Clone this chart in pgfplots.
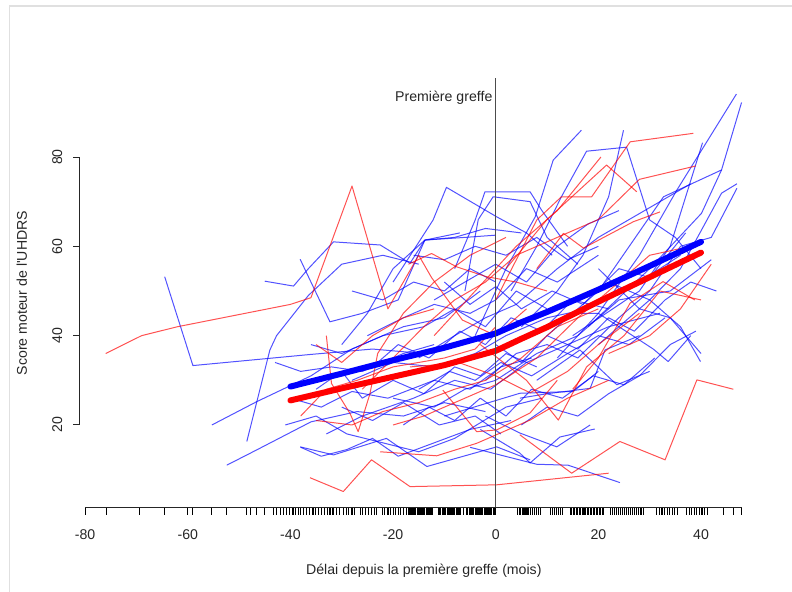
\documentclass[border=0pt]{standalone}
\usepackage{fontspec}
\setmainfont{Liberation Sans}[Ligatures=TeXOff]
\usepackage{pgfplots}
\pgfplotsset{compat=1.18}
\begin{document}
\begin{tikzpicture}[every node/.style={font=\fontsize{10.6}{12.7}\selectfont, inner sep=0pt, text=black!85}]
\useasboundingbox (-60pt,-63.3pt) rectangle (534pt,380.7pt);
\draw[black!12, line width=1.2pt] (-52.9pt,-63.3pt) -- (-52.9pt,376.2pt) -- (534pt,376.2pt);
\begin{axis}[at={(0pt,0pt)}, anchor=south west, scale only axis,
  width=515.8pt, height=321.9pt,
  xmin=-81, xmax=53, ymin=1.5, ymax=97.6,
  axis lines=none, clip=false,
  thinb/.style={draw=blue, draw opacity=0.68, line width=0.75pt, line join=round, mark=none},
  thinr/.style={draw=red, draw opacity=0.68, line width=0.75pt, line join=round, mark=none},
]
% ---- individual trajectories: blue ----
\addplot[thinb] coordinates {(-64.5,53.2) (-59,33.3) (-36,35.8) (-24,37) (-14,36) (-6,39)};
\addplot[thinb] coordinates {(-55.3,20) (-46.6,25.2) (-36,31) (-28,37) (-18,42) (-10,44) (-3,50)};
\addplot[thinb] coordinates {(-52.4,11) (-46.6,14.4) (-36,20.7) (-27,23) (-18,22) (-10,25) (-2,23)};
\addplot[thinb] coordinates {(-48.5,16.3) (-44,36.8) (-42.7,40) (-36.5,49) (-30,56) (-22,58) (-15,56)};
\addplot[thinb] coordinates {(-45,52.2) (-39.4,51.1) (-36.5,55) (-31.6,61) (-22.5,60.3) (-16.7,56.2) (-13.8,61.4) (-6,62) (0,62.5)};
\addplot[thinb] coordinates {(-38.1,57.1) (-36,52) (-32.3,43.1) (-26,45) (-19,48) (-13.8,61.4) (-7,63)};
\addplot[thinb] coordinates {(-40,26) (-34,24) (-28,27.5) (-21,26) (-12,30) (-5,28) (1,33) (7,35)};
\addplot[thinb] coordinates {(-38,15) (-34,13) (-29,14.5) (-24,17) (-19,13) (-12,16) (-5,19) (3,21)};
\addplot[thinb] coordinates {(-41,20) (-35,22) (-29,18) (-22,16) (-15,14) (-8,17) (2,24) (9,26)};
\addplot[thinb] coordinates {(-38.1,15.1) (-31.6,13.3) (-21.3,17) (-13.4,10.7) (0.2,15.1) (6.7,12.2)};
\addplot[thinb] coordinates {(-30,38) (-25,45) (-20,55) (-13.8,61.4) (-8,62) (-2,64) (5,63)};
\addplot[thinb] coordinates {(-20,52) (-12.2,65.9) (-9.6,73.2) (0.2,66.6) (6,63) (11,58)};
\addplot[thinb] coordinates {(-8,55) (-4,65.9) (-2.1,72.2) (6.7,72.2) (9,68) (14,60)};
\addplot[thinb] coordinates {(-6,50) (-3.4,66) (-0.5,71.1) (6.7,70) (10,62) (16,56)};
\addplot[thinb] coordinates {(-4,40) (2,55) (7.7,66.6) (11.2,79.3) (16.7,86)};
\addplot[thinb] coordinates {(3,50) (8,60) (12.8,71.1) (17.7,81.3) (25.5,82.2) (30,65.9) (35,62) (40,55)};
\addplot[thinb] coordinates {(5,42) (12,50) (17,58) (22,71.1) (24.9,86)};
\addplot[thinb] coordinates {(12,35) (20,45) (28,58) (35.3,72.6) (46.9,94.1)};
\addplot[thinb] coordinates {(10,40) (20,50) (32.7,71.1) (44,77.1) (47.9,92.2)};
\addplot[thinb] coordinates {(18,42) (30,55) (40.1,67.4) (44,77.1)};
\addplot[thinb] coordinates {(15,40) (28,50) (34,60) (40.3,83.2)};
\addplot[thinb] coordinates {(20,38) (30,48) (36,55) (44,71.9) (47,74)};
\addplot[thinb] coordinates {(-5,15) (8,11.2) (14.1,11) (24.2,7.1)};
\addplot[thinb] coordinates {(-2,22) (4.7,18.2) (11.9,15.1) (18.4,20)};
\addplot[thinb] coordinates {(-3,19) (4.7,13.7) (6.7,11.5) (12.5,17.3) (19.3,19.1)};
\addplot[thinb] coordinates {(15,45) (20,45) (30.7,37) (33.6,34.2) (38,40)};
\addplot[thinb] coordinates {(22,52) (30,48) (36,42) (39.9,34.2)};
\addplot[thinb] coordinates {(4.7,26) (10,27) (18.4,28.2) (21.3,36.8) (28,40)};
\addplot[thinb] coordinates {(-10,22) (4.7,27.1) (15.1,27.5) (20,32)};
\addplot[thinb] coordinates {(8,30) (16.4,36.8) (23.6,29) (30,32)};
\addplot[thinb] coordinates {(-25,40) (-18,44) (-12,47) (-5,45) (0,48) (6,55) (12,52) (20,58)};
\addplot[thinb] coordinates {(-28,30) (-20,34) (-12,33) (-4,36) (2,40) (10,44) (18,46) (28,52) (36,58)};
\addplot[thinb] coordinates {(-33,18) (-26,22) (-16,26) (-8,30) (-1,28) (6,34) (14,38) (22,42) (32,45)};
\addplot[thinb] coordinates {(-20,26) (-12,24) (-6,28) (0,30) (8,36) (16,40) (24,48) (34,50) (42,57)};
\addplot[thinb] coordinates {(-15,35) (-8,40) (-2,44) (4,47) (12,55) (20,62) (26,66) (32,70) (38,74)};
\addplot[thinb] coordinates {(-36,38) (-30,36) (-22,40) (-14,42) (-8,46) (-2,42) (4,50) (10,46)};
\addplot[thinb] coordinates {(-12,48) (-6,52) (0,56) (6,52) (12,60) (18,65) (24,68)};
\addplot[thinb] coordinates {(-2,30) (4,36) (10,38) (16,35) (24,44) (30,50) (36,60) (42,62) (47,73)};
\addplot[thinb] coordinates {(-30,24) (-24,21) (-18,25) (-11,20) (-4,22) (1,18)};
\addplot[thinb] coordinates {(-43,34) (-38,32) (-32,33) (-26,32) (-18,36) (-12,38)};
\addplot[thinb] coordinates {(20,55) (28,46) (34,44) (40,36)};
\addplot[thinb] coordinates {(-16,58) (-10,57) (-4,60) (2,58) (8,62) (14,57) (20,60)};
\addplot[thinb] coordinates {(-35,28) (-30,32) (-26,26) (-20,30) (-14,27) (-8,33) (-3,31) (2,36) (8,33)};
\addplot[thinb] coordinates {(-24,33) (-19,38) (-13,35) (-7,41) (-2,38) (3,44) (9,41) (15,48) (22,46)};
\addplot[thinb] coordinates {(-18,20) (-13,24) (-8,21) (-3,26) (2,22) (7,28) (13,26) (19,31) (25,29) (31,35)};
\addplot[thinb] coordinates {(0,38) (5,34) (10,40) (16,37) (22,44) (27,41) (33,48) (38,52) (43,50)};
\addplot[thinb] coordinates {(-10,52) (-5,47) (0,51) (5,46) (11,50) (17,47) (24,55) (30,53) (37,63)};
\addplot[thinb] coordinates {(-28,50) (-22,48) (-16,52) (-10,50) (-5,55) (0,52)};
\addplot[thinb] coordinates {(5,20) (10,24) (16,22) (22,27) (28,31) (34,38) (39,41)};
\addplot[thinb] coordinates {(-15,28) (-9,32) (-4,30) (1,34) (7,31) (14,36) (20,40) (26,38) (33,44)};
% ---- individual trajectories: red ----
\addplot[thinr] coordinates {(-76,36) (-69,40) (-62,42) (-40,47) (-36,48.5) (-28,73.5) (-21,46) (-15,58) (-12.5,53) (-6.5,43.5) (0,40) (6,46)};
\addplot[thinr] coordinates {(-33,40) (-32,29.3) (-28.4,22.6) (-26.8,18.5) (-24.5,27) (-23,36) (-18,45) (-12,52) (-5,58) (2,62)};
\addplot[thinr] coordinates {(-36.2,8.2) (-29.7,5.1) (-24.2,12.2) (-16.7,6.2) (0.2,6.6) (22,9.2)};
\addplot[thinr] coordinates {(4.7,17.8) (14.8,9.2) (24.2,16.3) (33,12.2) (39.2,30.1) (46.3,28)};
\addplot[thinr] coordinates {(-3,38) (6,30) (12.2,21.1) (17.7,33) (25,40) (32,50) (40,48)};
\addplot[thinr] coordinates {(0,48) (8,65.9) (12.8,71.1) (18.7,71.1) (26.2,83.4) (38.5,85.3)};
\addplot[thinr] coordinates {(-12,40) (-4,50) (4,60) (12,68) (20.5,80)};
\addplot[thinr] coordinates {(2,55) (10,66) (21.6,78.2) (27.5,72.2)};
\addplot[thinr] coordinates {(-22.5,14) (-11.5,13.1) (-3.7,15.9) (6.7,21.1) (14,26) (22,30)};
\addplot[thinr] coordinates {(15,28) (20,35) (26.2,47.3) (32.6,52.1) (38.8,48)};
\addplot[thinr] coordinates {(8,55) (13.2,62.9) (17.1,59.6) (26.8,65.5) (32,67.7)};
\addplot[thinr] coordinates {(-17,56) (-12.5,58.4) (-7.6,55.4) (-1.8,53.2) (4,52) (10,50)};
\addplot[thinr] coordinates {(-16.7,33) (-7,33.9) (0,31) (6.7,27.2) (14,32) (20,38) (28,45)};
\addplot[thinr] coordinates {(-10.3,27.8) (-3.7,18.5) (0.2,18.9) (6.7,22.7) (12,30)};
\addplot[thinr] coordinates {(-35,21) (-28,20) (-22,23) (-15,25) (-8,28) (-2,30) (5,35) (12,42) (20,46)};
\addplot[thinr] coordinates {(-26,28) (-20,35) (-14,42) (-8,48) (-2,52) (4,58) (12,62) (20,66) (28,75) (39,78)};
\addplot[thinr] coordinates {(-20,20) (-14,22) (-8,25) (0,29) (8,35) (16,44) (24,52) (30,58) (38,60)};
\addplot[thinr] coordinates {(-38,22) (-33,28) (-27,30) (-20,33) (-10,35) (-4,37) (0,42)};
\addplot[thinr] coordinates {(-35,38) (-30,34) (-24,40) (-18,44) (-12,46)};
\addplot[thinr] coordinates {(22,36) (30,40) (36,46) (42,56)};
% ---- mean curves ----
\addplot[draw=blue, line width=4.5pt, line cap=round, line join=round, mark=none] coordinates {(-40,28.6) (-30,31.5) (-20,34.5) (-10,37.3) (0,40.5) (5,43) (10,45.3) (20,50.3) (30,55.6) (40,61)};
\addplot[draw=red, line width=4.5pt, line cap=round, line join=round, mark=none] coordinates {(-40,25.5) (-30,28.2) (-20,30.8) (-10,33.4) (0,36.6) (5,39.3) (10,41.9) (20,47.6) (30,53.1) (40,58.6)};
% ---- vertical reference line ----
\addplot[draw=black!70, line width=0.9pt, mark=none] coordinates {(0,1.5) (0,97.6)};
\node[anchor=east] at (axis cs:-0.6,93.2) {Première greffe};
% ---- rug ----
\addplot[only marks, mark=|, mark size=2.7pt, mark options={yshift=-2.7pt, line width=0.85pt, draw=black}] coordinates {
(-80,1.5) (-75.9,1.5) (-69.4,1.5) (-64.5,1.5) (-60,1.5) (-59,1.5) (-55.3,1.5) (-52.4,1.5) (-48.5,1.5) (-47.7,1.5) (-46.6,1.5) (-45,1.5) (-43.3,1.5) (-42.7,1.5) (-42,1.5) (-41.4,1.5) (-40.7,1.5) (-40.1,1.5) (-39.5,1.5) (-39,1.5) (-38.5,1.5) (-38.1,1.5) (-37.5,1.5) (-36.8,1.5) (-36.2,1.5)
(-35.6,1.5) (-35.1,1.5) (-34.5,1.5) (-34,1.5) (-33.4,1.5) (-32.8,1.5) (-32.3,1.5) (-31.7,1.5) (-31.1,1.5) (-30.5,1.5) (-29.6,1.5) (-29.1,1.5) (-28.6,1.5) (-28,1.5) (-27.5,1.5) (-26.4,1.5) (-25.9,1.5) (-25.3,1.5) (-24.8,1.5) (-24.2,1.5) (-23.7,1.5) (-23.2,1.5) (-22.1,1.5) (-21.6,1.5) (-21,1.5) (-20.5,1.5) (-20,1.5) (-19.5,1.5) (-19,1.5) (-18.5,1.5) (-17.9,1.5)
(-17.3,1.5) (-17.05,1.5) (-16.8,1.5) (-16.55,1.5) (-16.3,1.5) (-16.05,1.5) (-15.8,1.5) (-15.55,1.5) (-15.3,1.5) (-15.05,1.5) (-14.8,1.5) (-14.55,1.5) (-14.3,1.5) (-14.05,1.5) (-13.8,1.5) (-13.55,1.5) (-13.3,1.5) (-13.05,1.5) (-12.8,1.5) (-12.55,1.5) (-12.3,1.5)
(-11.2,1.5) (-10.95,1.5) (-10.7,1.5) (-10.45,1.5) (-10.2,1.5) (-9.95,1.5) (-9.7,1.5) (-9.45,1.5) (-9.2,1.5) (-8.95,1.5) (-8.7,1.5) (-8.45,1.5) (-8.2,1.5) (-7.95,1.5) (-7.7,1.5) (-7.45,1.5) (-7.2,1.5) (-6.95,1.5) (-6.2,1.5) (-5.6,1.5)
(-5,1.5) (-4.75,1.5) (-4.5,1.5) (-4.25,1.5) (-4,1.5) (-3.75,1.5) (-3.5,1.5) (-3.25,1.5) (-3,1.5) (-2.75,1.5) (-2.5,1.5) (-2.25,1.5) (-2,1.5) (-1.75,1.5) (-1.5,1.5) (-1.25,1.5) (-1,1.5) (-0.75,1.5) (-0.5,1.5) (-0.25,1.5) (0,1.5)
(4.3,1.5) (4.6,1.5) (4.9,1.5) (5.2,1.5) (5.5,1.5) (5.8,1.5) (6.1,1.5) (6.4,1.5) (6.7,1.5) (7.1,1.5) (7.5,1.5) (7.9,1.5) (8.3,1.5) (8.7,1.5)
(10.6,1.5) (11,1.5) (11.4,1.5) (11.8,1.5) (12.2,1.5) (12.6,1.5) (13,1.5)
(14.5,1.5) (14.8,1.5) (15.1,1.5) (15.4,1.5) (15.7,1.5) (16,1.5) (16.3,1.5) (16.6,1.5) (16.9,1.5) (17.2,1.5) (17.5,1.5) (17.8,1.5) (18.1,1.5) (18.4,1.5) (18.7,1.5) (19,1.5) (19.3,1.5) (19.6,1.5) (19.9,1.5) (20.2,1.5) (20.5,1.5) (20.9,1.5)
(22.3,1.5) (22.7,1.5) (23.1,1.5) (23.5,1.5) (23.9,1.5) (24.3,1.5) (24.7,1.5) (25.1,1.5) (25.5,1.5) (25.9,1.5) (26.3,1.5) (26.7,1.5) (27.1,1.5) (27.5,1.5) (27.9,1.5) (28.3,1.5) (28.8,1.5)
(31.4,1.5) (31.9,1.5) (32.4,1.5) (32.9,1.5) (33.4,1.5) (33.9,1.5) (34.4,1.5) (34.9,1.5) (35.4,1.5)
(37.2,1.5) (37.7,1.5) (38.2,1.5) (38.7,1.5) (39.2,1.5) (39.7,1.5) (40.2,1.5) (40.7,1.5) (41.2,1.5)
(44.3,1.5) (46.3,1.5) (47.9,1.5)};
% ---- axes (R style) ----
\draw[black!85, line width=0.75pt] (axis cs:-80,1.5) -- (axis cs:47.9,1.5);
\draw[black!85, line width=0.75pt] (axis cs:-81,20) -- (axis cs:-81,80);
\pgfplotsinvokeforeach{20,40,60,80}{
  \draw[black!85, line width=0.75pt] (axis cs:-81,#1) -- ++(-5.4pt,0pt);
  \node[rotate=90, anchor=center] at ([xshift=-17pt]axis cs:-81,#1) {#1};
}
\pgfplotsinvokeforeach{-80,-60,-40,-20,0,20,40}{
  \node[anchor=center] at ([yshift=-20.3pt]axis cs:#1,1.5) {#1};
}
\node[anchor=center] at ([yshift=-47.6pt]axis cs:-14,1.5) {Délai depuis la première greffe (mois)};
\node[rotate=90, anchor=center] at ([xshift=-43.7pt]axis cs:-81,49.55) {Score moteur de l'UHDRS};
\end{axis}
\end{tikzpicture}
\end{document}
